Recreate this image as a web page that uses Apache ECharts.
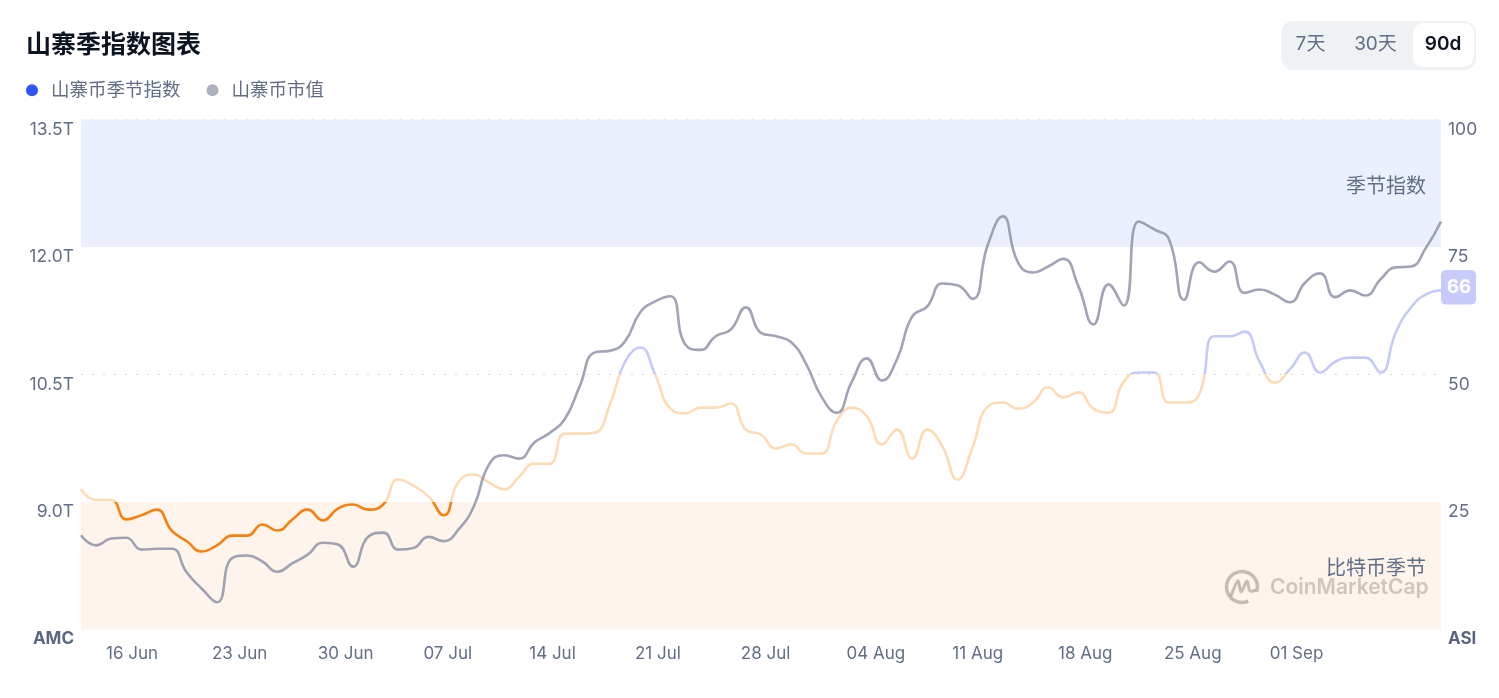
<!DOCTYPE html>
<html>
<head>
<meta charset="utf-8">
<script src="https://cdn.jsdelivr.net/npm/echarts@6/dist/echarts.min.js"></script>
<style>
  html, body { margin: 0; padding: 0; background: #fff; }
  #chart { width: 1499px; height: 698px; }
</style>
</head>
<body>
<div id="chart"></div>
<script>
const seasonIndex = [
  27.5, 25.4, 25.4, 21.6, 22.4, 23.5, 19.4, 17.3, 15.3, 16.5,
  18.4, 18.4, 20.6, 19.4, 21.6, 23.5, 21.4, 23.7, 24.5, 23.5,
  24.5, 29.4, 28.2, 26.1, 22.4, 29, 30.4, 28.8, 27.5, 30,
  32.5, 32.5, 38.4, 38.4, 38.6, 44.1, 52.5, 55.3, 50, 43.3,
  42.4, 43.5, 43.5, 44.3, 39.2, 38.2, 35.5, 36.3, 34.5, 34.5,
  40.8, 43.5, 41.8, 36.3, 39.2, 33.5, 39.2, 35.9, 29.4, 35.7,
  43.7, 44.5, 43.3, 44.5, 47.5, 45.5, 46.5, 43.3, 42.5, 48.6,
  50.4, 50.4, 44.5, 44.5, 46.1, 57.5, 57.5, 58.4, 52.5, 48.4,
  51, 54.3, 50.4, 52.5, 53.3, 53.3, 50.4, 58.2, 63.1, 65.7, 66.5
]
const marketCap = [
  8.61, 8.49, 8.57, 8.58, 8.44, 8.45, 8.45, 8.17, 7.98, 7.82,
  8.34, 8.37, 8.30, 8.18, 8.28, 8.38, 8.52, 8.50, 8.24, 8.59,
  8.64, 8.44, 8.46, 8.59, 8.54, 8.68, 8.95, 9.44, 9.55, 9.51,
  9.70, 9.81, 9.97, 10.36, 10.76, 10.78, 10.89, 11.23, 11.36, 11.42,
  10.85, 10.79, 10.95, 11.03, 11.29, 10.99, 10.95, 10.88, 10.62, 10.24,
  10.05, 10.41, 10.69, 10.43, 10.68, 11.18, 11.30, 11.57, 11.55, 11.39,
  12.02, 12.36, 11.82, 11.70, 11.77, 11.86, 11.54, 11.09, 11.56, 11.31,
  12.30, 12.21, 12.09, 11.38, 11.82, 11.71, 11.83, 11.46, 11.50, 11.44,
  11.35, 11.58, 11.69, 11.41, 11.49, 11.43, 11.62, 11.76, 11.77, 11.99, 12.30
]
const dateLabels = ['16 Jun', '23 Jun', '30 Jun', '07 Jul', '14 Jul', '21 Jul', '28 Jul', '04 Aug', '11 Aug', '18 Aug', '25 Aug', '01 Sep']
const capTicks = { 7.5: 'AMC', 9: '9.0T', 10.5: '10.5T', 12: '12.0T', 13.5: '13.5T' }
const indexTicks = { 0: 'ASI', 25: '25', 50: '50', 75: '75', 100: '100' }
const rangeButtons = ['7天', '30天', '90d']

// one category per day, first point is the day before the first label
const months = ['Jun', 'Jul', 'Aug', 'Sep']
const monthDays = [30, 31, 31, 30]
const categories = []
let m = 0, d = 15
for (let i = 0; i < seasonIndex.length; i++) {
  categories.push(String(d).padStart(2, '0') + ' ' + months[m])
  d++
  if (d > monthDays[m]) { d = 1; m++ }
}

const FONT = 'Inter, "Noto Sans CJK SC", sans-serif'
const GREY = '#616e85'

const chart = echarts.init(document.getElementById('chart'))

const axisLabel = (ticks) => ({
  fontFamily: FONT,
  fontSize: 17.5,
  color: GREY,
  margin: 7,
  padding: [1, 0, 0, 0],
  verticalAlign: 'top',
  formatter: v => {
    const t = ticks[v]
    return t === 'AMC' || t === 'ASI' ? '{b|' + t + '}' : t
  },
  rich: { b: { fontFamily: FONT, fontSize: 17, fontWeight: 700, color: '#5c6580' } }
})

chart.setOption({
  animation: false,
  backgroundColor: '#fff',
  textStyle: { fontFamily: FONT },
  title: {
    text: '山寨季指数图表',
    left: 26,
    top: 33,
    padding: 0,
    textStyle: { fontFamily: FONT, fontSize: 25, fontWeight: 700, color: '#0d1421' }
  },
  legend: {
    left: 26,
    top: 81,
    padding: 0,
    icon: 'circle',
    itemWidth: 12,
    itemHeight: 12,
    itemGap: 26,
    textStyle: { fontFamily: FONT, fontSize: 18.5, color: GREY, padding: [0, 0, 0, 8] },
    data: [
      { name: '山寨币季节指数', itemStyle: { color: '#3354f4' } },
      { name: '山寨币市值', itemStyle: { color: '#aeb1c0' } }
    ]
  },
  grid: { left: 81, right: 58, top: 119.5, height: 510 },
  xAxis: {
    type: 'category',
    boundaryGap: false,
    data: categories,
    axisLine: { show: false },
    axisTick: { show: false },
    splitLine: { show: false },
    axisLabel: {
      interval: (i, name) => dateLabels.includes(name),
      align: 'left',
      padding: [0, 0, 0, 10],
      margin: 16,
      fontFamily: FONT,
      fontSize: 17,
      color: GREY
    }
  },
  yAxis: [
    {
      type: 'value',
      min: 7.5,
      max: 13.5,
      interval: 1.5,
      position: 'left',
      axisLine: { show: false },
      axisTick: { show: false },
      splitLine: { show: false },
      axisLabel: axisLabel(capTicks)
    },
    {
      type: 'value',
      min: 0,
      max: 100,
      interval: 25,
      position: 'right',
      axisLine: { show: false },
      axisTick: { show: false },
      // dotted only at 50 and 100, the other two sit on the band edges
      splitLine: { show: true, lineStyle: { type: [2, 9], width: 1, color: ['transparent', 'transparent', '#d5d8e0', 'transparent', '#d5d8e0'] } },
      axisLabel: axisLabel(indexTicks)
    }
  ],
  visualMap: {
    show: false,
    type: 'piecewise',
    seriesIndex: 0,
    dimension: 1,
    pieces: [
      { lte: 25, color: '#f5820f' },
      { gt: 25, lte: 50, color: '#fcdcb6' },
      { gt: 50, lte: 75, color: '#c6caf8' },
      { gt: 75, color: '#3354f4' }
    ]
  },
  series: [
    {
      name: '山寨币季节指数',
      type: 'line',
      yAxisIndex: 1,
      data: seasonIndex,
      smooth: 0.5,
      showSymbol: false,
      itemStyle: { color: '#3354f4' },
      lineStyle: { width: 2.6 },
      endLabel: {
        show: true,
        distance: 0,
        offset: [0, -3],
        formatter: p => Math.floor(p.value),
        backgroundColor: '#c8cbfa',
        borderRadius: 5,
        padding: [8, 5, 8, 6],
        color: '#fff',
        fontFamily: FONT,
        fontSize: 18.5,
        fontWeight: 700
      },
      markArea: {
        silent: true,
        z: 0,
        label: {
          position: 'insideRight',
          distance: 15,
          offset: [0, 4],
          fontFamily: FONT,
          fontSize: 20,
          color: GREY
        },
        data: [
          [{ yAxis: 75, name: '季节指数', itemStyle: { color: '#ebeffe' } }, { yAxis: 100 }],
          [{ yAxis: 0, name: '比特币季节', itemStyle: { color: '#fff4ec' }, label: { offset: [0, 3] } }, { yAxis: 25 }]
        ]
      }
    },
    {
      name: '山寨币市值',
      type: 'line',
      yAxisIndex: 0,
      data: marketCap,
      smooth: 0.5,
      showSymbol: false,
      z: 3,
      itemStyle: { color: '#aeb1c0' },
      lineStyle: { width: 2.6, color: 'rgba(133,139,160,0.78)' }
    }
  ],
  graphic: [
    // range switch, top right
    { type: 'rect', shape: { x: 1281, y: 21, width: 195, height: 49, r: 12 }, style: { fill: '#eff2f5' } },
    { type: 'rect', shape: { x: 1413, y: 23, width: 61, height: 44, r: 10 }, style: { fill: '#fff' } },
    { type: 'text', x: 1310.5, y: 44.5, style: { text: rangeButtons[0], font: '19px ' + FONT, fill: GREY, align: 'center', verticalAlign: 'middle' } },
    { type: 'text', x: 1375.5, y: 44.5, style: { text: rangeButtons[1], font: '19px ' + FONT, fill: GREY, align: 'center', verticalAlign: 'middle' } },
    { type: 'text', x: 1443, y: 44.5, style: { text: rangeButtons[2], font: '600 19px ' + FONT, fill: '#0d1421', align: 'center', verticalAlign: 'middle' } },
    // watermark
    {
      type: 'arc', z: 20,
      shape: { cx: 1242, cy: 587, r: 15.5, startAngle: 1.15, endAngle: 6.6 },
      style: { fill: null, stroke: 'rgba(110,105,105,0.4)', lineWidth: 3.5 }
    },
    {
      type: 'polyline', z: 20,
      shape: { points: [[1231, 596], [1238, 581], [1241, 592], [1247, 581], [1250, 591], [1256, 590]], smooth: 0.3 },
      style: { fill: null, stroke: 'rgba(110,105,105,0.4)', lineWidth: 3 }
    },
    {
      type: 'text', z: 20, x: 1270, y: 588,
      style: { text: 'CoinMarketCap', font: '600 21px ' + FONT, fill: 'rgba(110,105,105,0.34)', verticalAlign: 'middle' }
    }
  ]
})
</script>
</body>
</html>
